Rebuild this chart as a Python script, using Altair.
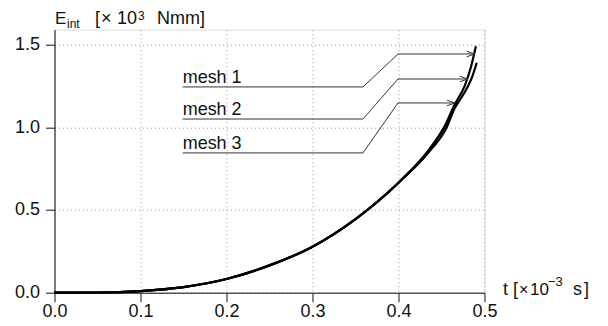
import altair as alt
import pandas as pd

# ---- curve data (t in 1e-3 s, E_int in 1e3 Nmm) ----
mesh1_t = [0.0, 0.05, 0.10, 0.15, 0.20, 0.25, 0.30, 0.35, 0.40, 0.435, 0.455, 0.465, 0.477, 0.484, 0.490]
mesh1_E = [0.0, 0.001, 0.010, 0.034, 0.083, 0.165, 0.278, 0.445, 0.665, 0.86, 1.02, 1.135, 1.25, 1.36, 1.49]
mesh2_t = [0.0, 0.05, 0.10, 0.15, 0.20, 0.25, 0.30, 0.35, 0.40, 0.435, 0.456, 0.467, 0.480, 0.486, 0.491]
mesh2_E = [0.0, 0.001, 0.010, 0.034, 0.083, 0.165, 0.278, 0.445, 0.665, 0.86, 1.02, 1.13, 1.24, 1.31, 1.39]
mesh3_t = [0.0, 0.05, 0.10, 0.15, 0.20, 0.25, 0.30, 0.35, 0.40, 0.436, 0.457, 0.467]
mesh3_E = [0.0, 0.001, 0.010, 0.034, 0.083, 0.165, 0.278, 0.445, 0.665, 0.855, 1.01, 1.15]

# ---- annotation leaders ----
ann_labels = ["mesh 1", "mesh 2", "mesh 3"]
ann_start_t = [0.149, 0.149, 0.149]
ann_knee_t = [0.3587, 0.3587, 0.3587]
ann_bend_t = [0.3994, 0.3994, 0.3994]
ann_under_E = [1.244, 1.050, 0.845]
ann_arrow_E = [1.443, 1.292, 1.147]
ann_tip_t = [0.4885, 0.4805, 0.4657]

x_ticks = [0.0, 0.1, 0.2, 0.3, 0.4, 0.5]
y_ticks = [0.0, 0.5, 1.0, 1.5]

# axis-title pieces
title_text = ["E", "int", "[", "×", "10", "3", "Nmm]"]
xlabel_text = ["t", "[", "×", "10", "−3", "s", "]"]

FONT = "Liberation Sans"
X0, Y0 = 54.5, 29.7  # plot origin on page (for text pieces)

curves = pd.concat([
    pd.DataFrame({"t": mesh1_t, "E": mesh1_E, "mesh": "mesh 1"}),
    pd.DataFrame({"t": mesh2_t, "E": mesh2_E, "mesh": "mesh 2"}),
    pd.DataFrame({"t": mesh3_t, "E": mesh3_E, "mesh": "mesh 3"}),
], ignore_index=True)
curves["i"] = range(len(curves))

rows = []
for k, lab in enumerate(ann_labels):
    pts = [(ann_start_t[k], ann_under_E[k]), (ann_knee_t[k], ann_under_E[k]),
           (ann_bend_t[k], ann_arrow_E[k]), (ann_tip_t[k], ann_arrow_E[k])]
    for j, (tt, ee) in enumerate(pts):
        rows.append({"mesh": lab, "o": j, "t": tt, "E": ee})
leaders = pd.DataFrame(rows)
labels_df = pd.DataFrame({"mesh": ann_labels, "t": ann_start_t, "E": ann_under_E})
tips_df = pd.DataFrame({"mesh": ann_labels, "t": ann_tip_t, "E": ann_arrow_E})

xs = alt.Scale(domain=[0, 0.5], nice=False, zero=False)
ys = alt.Scale(domain=[0, 1.59], nice=False, zero=False)

common_axis = dict(format=".1f", title=None, tickSize=9, labelFlush=False,
                   grid=True, gridDash=[1, 3], gridColor="#999999", gridWidth=1,
                   domainColor="#111111", tickColor="#111111", labelColor="#111111",
                   labelFont=FONT, labelFontSize=18)
x_axis = alt.Axis(values=x_ticks, labelPadding=1, **common_axis)
y_axis = alt.Axis(values=y_ticks, labelPadding=6, **common_axis)

curve_layer = alt.Chart(curves).mark_line(color="black", strokeWidth=2.2, interpolate="monotone").encode(
    x=alt.X("t:Q", scale=xs, axis=x_axis),
    y=alt.Y("E:Q", scale=ys, axis=y_axis),
    detail="mesh:N",
    order="i:Q",
)

leader_layer = alt.Chart(leaders).mark_line(color="#333333", strokeWidth=1).encode(
    x=alt.X("t:Q", scale=xs), y=alt.Y("E:Q", scale=ys), detail="mesh:N", order="o:Q"
)

tip_layer = alt.Chart(tips_df).mark_point(
    shape="M-1,-0.35L0,0L-1,0.35", filled=False, color="#333333", strokeWidth=1, size=256, opacity=1
).encode(x=alt.X("t:Q", scale=xs), y=alt.Y("E:Q", scale=ys))

label_layer = alt.Chart(labels_df).mark_text(
    align="left", baseline="alphabetic", dy=-4, font=FONT, fontSize=18, color="#111111"
).encode(x=alt.X("t:Q", scale=xs), y=alt.Y("E:Q", scale=ys), text="mesh:N")

# positions of the title pieces on the page (layout, not data): left x, baseline y, font size
title_pos = [(55, 24, 17), (67, 28, 12), (95, 24, 18), (101, 24, 18), (117, 24, 18), (138, 20, 12), (157, 24, 18)]
xlabel_pos = [(503, 295, 18), (513, 295, 18), (519, 295, 16), (530, 295, 17), (548, 286, 13), (573, 295, 18), (584, 295, 18)]

pieces = []
for txt, (px, py, fs) in list(zip(title_text, title_pos)) + list(zip(xlabel_text, xlabel_pos)):
    pieces.append(
        alt.Chart(pd.DataFrame({"a": [txt]})).mark_text(
            align="left", baseline="alphabetic", font=FONT, fontSize=fs, color="#111111"
        ).encode(x=alt.value(px - X0), y=alt.value(py - Y0), text="a:N")
    )

chart = alt.layer(curve_layer, leader_layer, tip_layer, label_layer, *pieces).properties(
    width=430, height=263,
    autosize=alt.AutoSizeParams(type="none"),
    padding={"left": 46.5, "top": 21.7, "right": 110, "bottom": 30},
).configure_view(stroke="#222222", strokeWidth=1).configure(background="white")

chart.save("out.html", embed_options={"renderer": "svg", "actions": False})
